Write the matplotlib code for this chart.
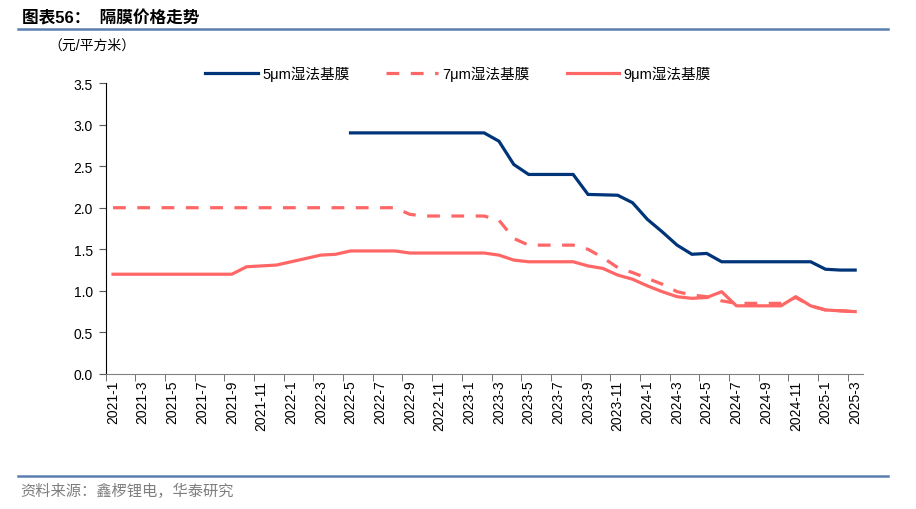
import numpy as np
import matplotlib.pyplot as plt
from matplotlib.lines import Line2D

plt.rcParams['font.family'] = ['Liberation Sans', 'Noto Sans CJK SC', 'DejaVu Sans']

# monthly categories 2021-1 .. 2025-3
months = [f"{y}-{m}" for y in range(2021, 2026) for m in range(1, 13)][:51]

# 5um starts at 2022-5
wet5 = [np.nan] * 16 + [2.9] * 10 + [2.8, 2.52] + [2.4] * 4 + \
       [2.16, 2.155, 2.15, 2.06, 1.86, 1.71, 1.55, 1.44, 1.45] + [1.35] * 7 + [1.26, 1.25, 1.25]
wet7 = [2.0] * 20 + [1.92] + [1.90] * 5 + [1.85, 1.63] + [1.55] * 4 + \
       [1.50, 1.40, 1.28, 1.22, 1.15, 1.08, 0.99, 0.95, 0.93, 0.88] + [0.85] * 4 + \
       [0.92, 0.82, 0.77, 0.76, 0.75]
wet9 = [1.2] * 9 + [1.29, 1.30, 1.31, 1.35, 1.39, 1.43, 1.44] + [1.48] * 4 + [1.455] * 6 + \
       [1.43, 1.37] + [1.35] * 4 + \
       [1.30, 1.27, 1.19, 1.14, 1.06, 0.99, 0.93, 0.91, 0.92, 0.99] + [0.82] * 4 + \
       [0.93, 0.82, 0.77, 0.76, 0.75]

names = ['5μm湿法基膜', '7μm湿法基膜', '9μm湿法基膜']
navy = '#003478'
salmon = '#FF6666'

fig = plt.figure(figsize=(9.16, 5.10), dpi=100)
ax = fig.add_axes([105.6 / 916, 1 - 375 / 510, (862.6 - 105.6) / 916, (375 - 84) / 510])

x = np.arange(len(months))
ax.plot(x, wet5, color=navy, lw=2.3, solid_joinstyle='miter')
ax.plot(x, wet7, color=salmon, lw=2.3, dashes=(4, 3.6))
ax.plot(x, wet9, color=salmon, lw=2.3)

ax.set_xlim(-0.5, len(months) - 0.5)
ax.set_ylim(0, 3.5)
ax.set_yticks(np.arange(0, 3.51, 0.5))
ax.set_yticklabels([f"{v:.1f}" for v in np.arange(0, 3.51, 0.5)], fontsize=10)

ax.set_xticks(x[::2])
ax.set_xticklabels(months[::2], rotation=90, fontsize=10)
ax.set_xticks(np.arange(-0.5, len(months), 2), minor=True)
ax.tick_params(axis='x', which='major', length=0, pad=4)
ax.tick_params(axis='x', which='minor', length=5, direction='out', color='#595959')
ax.tick_params(axis='y', length=5, direction='out', color='#595959', pad=4)

for s in ['top', 'right']:
    ax.spines[s].set_visible(False)
ax.spines['left'].set_color('#000000')
ax.spines['bottom'].set_color('#808080')

handles = [Line2D([], [], color=navy, lw=2.3),
           Line2D([], [], color=salmon, lw=2.3, dashes=(4, 3.6)),
           Line2D([], [], color=salmon, lw=2.3)]
fig.legend(handles, names, loc='center left', bbox_to_anchor=(192 / 916, 1 - 74 / 510),
           ncol=3, frameon=False, fontsize=10.5, handlelength=3.6, columnspacing=2.5,
           handletextpad=0.3)

# header and footer
fig.text(22 / 916, 1 - 18 / 510, '图表56：  隔膜价格走势', fontsize=12, fontweight='bold',
         va='center', ha='left')
fig.add_artist(Line2D([18 / 916, 888 / 916], [1 - 30 / 510] * 2, color='#5B7FB0', lw=1.8))
fig.text(48 / 916, 1 - 46 / 510, '（元/平方米）', fontsize=10, va='center', ha='left')
fig.add_artist(Line2D([18 / 916, 888 / 916], [1 - 477 / 510] * 2, color='#5B7FB0', lw=1.8))
fig.text(20 / 916, 1 - 491 / 510, '资料来源：鑫椤锂电，华泰研究', fontsize=11, color='#7F7F7F',
         va='center', ha='left')

fig.savefig('out.png', dpi=100)
